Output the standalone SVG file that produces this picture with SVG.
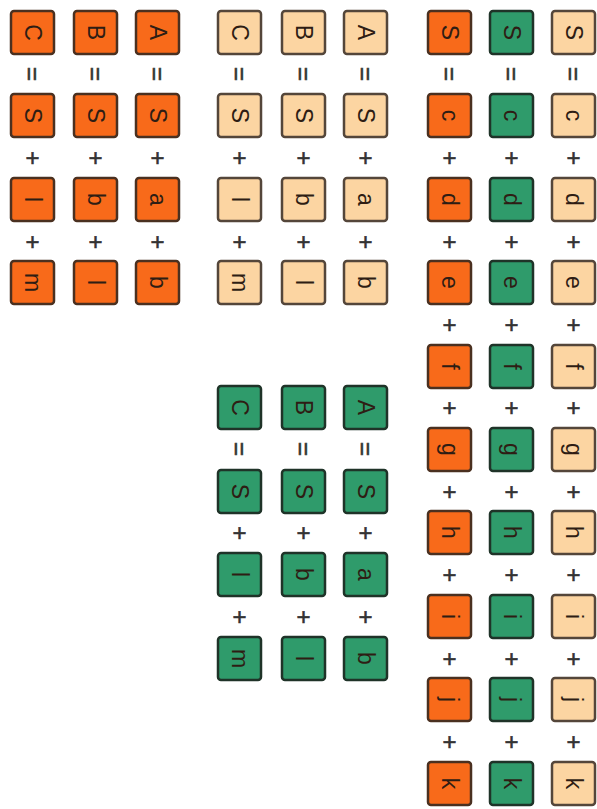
<svg xmlns="http://www.w3.org/2000/svg" width="597" height="809" viewBox="0 0 597 809">
<style>
rect{stroke-width:2.5;rx:3;ry:3}
.or{fill:#F86A1A;stroke:#4a3020}
.lt{fill:#FCD5A2;stroke:#54463a}
.gr{fill:#2F9B6B;stroke:#1f3328}
text{font-family:"Liberation Sans",Arial,sans-serif;text-anchor:middle;dominant-baseline:central}
.lb{font-size:23px;fill:#2e1d14}
.op{font-size:24px;fill:#333333;stroke:#333333;stroke-width:0.6}
</style>
<rect width="597" height="809" fill="#ffffff" style="stroke:none"/>
<!-- Group 1 (orange) -->
<g id="o1-C"><rect class="or" x="11" y="11" width="43" height="43"/><text class="lb" x="32.5" y="32.5" transform="rotate(90 32.5 32.5)">C</text></g>
<g id="o1-CS"><rect class="or" x="11" y="94" width="43" height="43"/><text class="lb" x="32.5" y="115.5" transform="rotate(90 32.5 115.5)">S</text></g>
<g id="o1-Cl"><rect class="or" x="11" y="178" width="43" height="43"/><text class="lb" x="32.5" y="199.5" transform="rotate(90 32.5 199.5)">l</text></g>
<g id="o1-Cm"><rect class="or" x="11" y="261" width="43" height="43"/><text class="lb" x="32.5" y="282.5" transform="rotate(90 32.5 282.5)">m</text></g>
<g id="o1-B"><rect class="or" x="74" y="11" width="43" height="43"/><text class="lb" x="95.5" y="32.5" transform="rotate(90 95.5 32.5)">B</text></g>
<g id="o1-BS"><rect class="or" x="74" y="94" width="43" height="43"/><text class="lb" x="95.5" y="115.5" transform="rotate(90 95.5 115.5)">S</text></g>
<g id="o1-Bb"><rect class="or" x="74" y="178" width="43" height="43"/><text class="lb" x="95.5" y="199.5" transform="rotate(90 95.5 199.5)">b</text></g>
<g id="o1-Bl"><rect class="or" x="74" y="261" width="43" height="43"/><text class="lb" x="95.5" y="282.5" transform="rotate(90 95.5 282.5)">l</text></g>
<g id="o1-A"><rect class="or" x="136" y="11" width="43" height="43"/><text class="lb" x="157.5" y="32.5" transform="rotate(90 157.5 32.5)">A</text></g>
<g id="o1-AS"><rect class="or" x="136" y="94" width="43" height="43"/><text class="lb" x="157.5" y="115.5" transform="rotate(90 157.5 115.5)">S</text></g>
<g id="o1-Aa"><rect class="or" x="136" y="178" width="43" height="43"/><text class="lb" x="157.5" y="199.5" transform="rotate(90 157.5 199.5)">a</text></g>
<g id="o1-Ab"><rect class="or" x="136" y="261" width="43" height="43"/><text class="lb" x="157.5" y="282.5" transform="rotate(90 157.5 282.5)">b</text></g>
<!-- Group 2 (light) -->
<g id="l2-C"><rect class="lt" x="218" y="11" width="43" height="43"/><text class="lb" x="239.5" y="32.5" transform="rotate(90 239.5 32.5)">C</text></g>
<g id="l2-CS"><rect class="lt" x="218" y="94" width="43" height="43"/><text class="lb" x="239.5" y="115.5" transform="rotate(90 239.5 115.5)">S</text></g>
<g id="l2-Cl"><rect class="lt" x="218" y="178" width="43" height="43"/><text class="lb" x="239.5" y="199.5" transform="rotate(90 239.5 199.5)">l</text></g>
<g id="l2-Cm"><rect class="lt" x="218" y="261" width="43" height="43"/><text class="lb" x="239.5" y="282.5" transform="rotate(90 239.5 282.5)">m</text></g>
<g id="l2-B"><rect class="lt" x="282" y="11" width="43" height="43"/><text class="lb" x="303.5" y="32.5" transform="rotate(90 303.5 32.5)">B</text></g>
<g id="l2-BS"><rect class="lt" x="282" y="94" width="43" height="43"/><text class="lb" x="303.5" y="115.5" transform="rotate(90 303.5 115.5)">S</text></g>
<g id="l2-Bb"><rect class="lt" x="282" y="178" width="43" height="43"/><text class="lb" x="303.5" y="199.5" transform="rotate(90 303.5 199.5)">b</text></g>
<g id="l2-Bl"><rect class="lt" x="282" y="261" width="43" height="43"/><text class="lb" x="303.5" y="282.5" transform="rotate(90 303.5 282.5)">l</text></g>
<g id="l2-A"><rect class="lt" x="344" y="11" width="43" height="43"/><text class="lb" x="365.5" y="32.5" transform="rotate(90 365.5 32.5)">A</text></g>
<g id="l2-AS"><rect class="lt" x="344" y="94" width="43" height="43"/><text class="lb" x="365.5" y="115.5" transform="rotate(90 365.5 115.5)">S</text></g>
<g id="l2-Aa"><rect class="lt" x="344" y="178" width="43" height="43"/><text class="lb" x="365.5" y="199.5" transform="rotate(90 365.5 199.5)">a</text></g>
<g id="l2-Ab"><rect class="lt" x="344" y="261" width="43" height="43"/><text class="lb" x="365.5" y="282.5" transform="rotate(90 365.5 282.5)">b</text></g>
<!-- Group 4 (green) -->
<g id="g4-C"><rect class="gr" x="218" y="386" width="43" height="43"/><text class="lb" x="239.5" y="407.5" transform="rotate(90 239.5 407.5)">C</text></g>
<g id="g4-CS"><rect class="gr" x="218" y="470" width="43" height="43"/><text class="lb" x="239.5" y="491.5" transform="rotate(90 239.5 491.5)">S</text></g>
<g id="g4-Cl"><rect class="gr" x="218" y="553" width="43" height="43"/><text class="lb" x="239.5" y="574.5" transform="rotate(90 239.5 574.5)">l</text></g>
<g id="g4-Cm"><rect class="gr" x="218" y="637" width="43" height="43"/><text class="lb" x="239.5" y="658.5" transform="rotate(90 239.5 658.5)">m</text></g>
<g id="g4-B"><rect class="gr" x="282" y="386" width="43" height="43"/><text class="lb" x="303.5" y="407.5" transform="rotate(90 303.5 407.5)">B</text></g>
<g id="g4-BS"><rect class="gr" x="282" y="470" width="43" height="43"/><text class="lb" x="303.5" y="491.5" transform="rotate(90 303.5 491.5)">S</text></g>
<g id="g4-Bb"><rect class="gr" x="282" y="553" width="43" height="43"/><text class="lb" x="303.5" y="574.5" transform="rotate(90 303.5 574.5)">b</text></g>
<g id="g4-Bl"><rect class="gr" x="282" y="637" width="43" height="43"/><text class="lb" x="303.5" y="658.5" transform="rotate(90 303.5 658.5)">l</text></g>
<g id="g4-A"><rect class="gr" x="344" y="386" width="43" height="43"/><text class="lb" x="365.5" y="407.5" transform="rotate(90 365.5 407.5)">A</text></g>
<g id="g4-AS"><rect class="gr" x="344" y="470" width="43" height="43"/><text class="lb" x="365.5" y="491.5" transform="rotate(90 365.5 491.5)">S</text></g>
<g id="g4-Aa"><rect class="gr" x="344" y="553" width="43" height="43"/><text class="lb" x="365.5" y="574.5" transform="rotate(90 365.5 574.5)">a</text></g>
<g id="g4-Ab"><rect class="gr" x="344" y="637" width="43" height="43"/><text class="lb" x="365.5" y="658.5" transform="rotate(90 365.5 658.5)">b</text></g>
<!-- Group 3: orange column -->
<g id="o3-S"><rect class="or" x="428" y="11" width="43" height="43"/><text class="lb" x="449.5" y="32.5" transform="rotate(90 449.5 32.5)">S</text></g>
<g id="o3-c"><rect class="or" x="428" y="94" width="43" height="43"/><text class="lb" x="449.5" y="115.5" transform="rotate(90 449.5 115.5)">c</text></g>
<g id="o3-d"><rect class="or" x="428" y="178" width="43" height="43"/><text class="lb" x="449.5" y="199.5" transform="rotate(90 449.5 199.5)">d</text></g>
<g id="o3-e"><rect class="or" x="428" y="261" width="43" height="43"/><text class="lb" x="449.5" y="282.5" transform="rotate(90 449.5 282.5)">e</text></g>
<g id="o3-f"><rect class="or" x="428" y="345" width="43" height="43"/><text class="lb" x="449.5" y="366.5" transform="rotate(90 449.5 366.5)">f</text></g>
<g id="o3-g"><rect class="or" x="428" y="428" width="43" height="43"/><text class="lb" x="449.5" y="449.5" transform="rotate(90 449.5 449.5)">g</text></g>
<g id="o3-h"><rect class="or" x="428" y="511" width="43" height="43"/><text class="lb" x="449.5" y="532.5" transform="rotate(90 449.5 532.5)">h</text></g>
<g id="o3-i"><rect class="or" x="428" y="595" width="43" height="43"/><text class="lb" x="449.5" y="616.5" transform="rotate(90 449.5 616.5)">i</text></g>
<g id="o3-j"><rect class="or" x="428" y="678" width="43" height="43"/><text class="lb" x="449.5" y="699.5" transform="rotate(90 449.5 699.5)">j</text></g>
<g id="o3-k"><rect class="or" x="428" y="762" width="43" height="43"/><text class="lb" x="449.5" y="783.5" transform="rotate(90 449.5 783.5)">k</text></g>
<!-- Group 3: green column -->
<g id="g3-S"><rect class="gr" x="490" y="11" width="43" height="43"/><text class="lb" x="511.5" y="32.5" transform="rotate(90 511.5 32.5)">S</text></g>
<g id="g3-c"><rect class="gr" x="490" y="94" width="43" height="43"/><text class="lb" x="511.5" y="115.5" transform="rotate(90 511.5 115.5)">c</text></g>
<g id="g3-d"><rect class="gr" x="490" y="178" width="43" height="43"/><text class="lb" x="511.5" y="199.5" transform="rotate(90 511.5 199.5)">d</text></g>
<g id="g3-e"><rect class="gr" x="490" y="261" width="43" height="43"/><text class="lb" x="511.5" y="282.5" transform="rotate(90 511.5 282.5)">e</text></g>
<g id="g3-f"><rect class="gr" x="490" y="345" width="43" height="43"/><text class="lb" x="511.5" y="366.5" transform="rotate(90 511.5 366.5)">f</text></g>
<g id="g3-g"><rect class="gr" x="490" y="428" width="43" height="43"/><text class="lb" x="511.5" y="449.5" transform="rotate(90 511.5 449.5)">g</text></g>
<g id="g3-h"><rect class="gr" x="490" y="511" width="43" height="43"/><text class="lb" x="511.5" y="532.5" transform="rotate(90 511.5 532.5)">h</text></g>
<g id="g3-i"><rect class="gr" x="490" y="595" width="43" height="43"/><text class="lb" x="511.5" y="616.5" transform="rotate(90 511.5 616.5)">i</text></g>
<g id="g3-j"><rect class="gr" x="490" y="678" width="43" height="43"/><text class="lb" x="511.5" y="699.5" transform="rotate(90 511.5 699.5)">j</text></g>
<g id="g3-k"><rect class="gr" x="490" y="762" width="43" height="43"/><text class="lb" x="511.5" y="783.5" transform="rotate(90 511.5 783.5)">k</text></g>
<!-- Group 3: light column -->
<g id="l3-S"><rect class="lt" x="552" y="11" width="43" height="43"/><text class="lb" x="573.5" y="32.5" transform="rotate(90 573.5 32.5)">S</text></g>
<g id="l3-c"><rect class="lt" x="552" y="94" width="43" height="43"/><text class="lb" x="573.5" y="115.5" transform="rotate(90 573.5 115.5)">c</text></g>
<g id="l3-d"><rect class="lt" x="552" y="178" width="43" height="43"/><text class="lb" x="573.5" y="199.5" transform="rotate(90 573.5 199.5)">d</text></g>
<g id="l3-e"><rect class="lt" x="552" y="261" width="43" height="43"/><text class="lb" x="573.5" y="282.5" transform="rotate(90 573.5 282.5)">e</text></g>
<g id="l3-f"><rect class="lt" x="552" y="345" width="43" height="43"/><text class="lb" x="573.5" y="366.5" transform="rotate(90 573.5 366.5)">f</text></g>
<g id="l3-g"><rect class="lt" x="552" y="428" width="43" height="43"/><text class="lb" x="573.5" y="449.5" transform="rotate(90 573.5 449.5)">g</text></g>
<g id="l3-h"><rect class="lt" x="552" y="511" width="43" height="43"/><text class="lb" x="573.5" y="532.5" transform="rotate(90 573.5 532.5)">h</text></g>
<g id="l3-i"><rect class="lt" x="552" y="595" width="43" height="43"/><text class="lb" x="573.5" y="616.5" transform="rotate(90 573.5 616.5)">i</text></g>
<g id="l3-j"><rect class="lt" x="552" y="678" width="43" height="43"/><text class="lb" x="573.5" y="699.5" transform="rotate(90 573.5 699.5)">j</text></g>
<g id="l3-k"><rect class="lt" x="552" y="762" width="43" height="43"/><text class="lb" x="573.5" y="783.5" transform="rotate(90 573.5 783.5)">k</text></g>
<!-- Operators -->
<g id="operators">
<text class="op" x="32.5" y="74" transform="rotate(90 32.5 74)">=</text>
<text class="op" x="95.5" y="74" transform="rotate(90 95.5 74)">=</text>
<text class="op" x="157.5" y="74" transform="rotate(90 157.5 74)">=</text>
<text class="op" x="32.5" y="157.5">+</text><text class="op" x="95.5" y="157.5">+</text><text class="op" x="157.5" y="157.5">+</text>
<text class="op" x="32.5" y="241">+</text><text class="op" x="95.5" y="241">+</text><text class="op" x="157.5" y="241">+</text>
<text class="op" x="239.5" y="74" transform="rotate(90 239.5 74)">=</text>
<text class="op" x="303.5" y="74" transform="rotate(90 303.5 74)">=</text>
<text class="op" x="365.5" y="74" transform="rotate(90 365.5 74)">=</text>
<text class="op" x="239.5" y="157.5">+</text><text class="op" x="303.5" y="157.5">+</text><text class="op" x="365.5" y="157.5">+</text>
<text class="op" x="239.5" y="241">+</text><text class="op" x="303.5" y="241">+</text><text class="op" x="365.5" y="241">+</text>
<text class="op" x="239.5" y="449" transform="rotate(90 239.5 449)">=</text>
<text class="op" x="303.5" y="449" transform="rotate(90 303.5 449)">=</text>
<text class="op" x="365.5" y="449" transform="rotate(90 365.5 449)">=</text>
<text class="op" x="239.5" y="532.5">+</text><text class="op" x="303.5" y="532.5">+</text><text class="op" x="365.5" y="532.5">+</text>
<text class="op" x="239.5" y="616">+</text><text class="op" x="303.5" y="616">+</text><text class="op" x="365.5" y="616">+</text>
<text class="op" x="449.5" y="74" transform="rotate(90 449.5 74)">=</text>
<text class="op" x="511.5" y="74" transform="rotate(90 511.5 74)">=</text>
<text class="op" x="573.5" y="74" transform="rotate(90 573.5 74)">=</text>
<text class="op" x="449.5" y="157.5">+</text><text class="op" x="511.5" y="157.5">+</text><text class="op" x="573.5" y="157.5">+</text>
<text class="op" x="449.5" y="241">+</text><text class="op" x="511.5" y="241">+</text><text class="op" x="573.5" y="241">+</text>
<text class="op" x="449.5" y="324.5">+</text><text class="op" x="511.5" y="324.5">+</text><text class="op" x="573.5" y="324.5">+</text>
<text class="op" x="449.5" y="407.5">+</text><text class="op" x="511.5" y="407.5">+</text><text class="op" x="573.5" y="407.5">+</text>
<text class="op" x="449.5" y="491">+</text><text class="op" x="511.5" y="491">+</text><text class="op" x="573.5" y="491">+</text>
<text class="op" x="449.5" y="574.5">+</text><text class="op" x="511.5" y="574.5">+</text><text class="op" x="573.5" y="574.5">+</text>
<text class="op" x="449.5" y="658">+</text><text class="op" x="511.5" y="658">+</text><text class="op" x="573.5" y="658">+</text>
<text class="op" x="449.5" y="741.5">+</text><text class="op" x="511.5" y="741.5">+</text><text class="op" x="573.5" y="741.5">+</text>
</g>
</svg>
